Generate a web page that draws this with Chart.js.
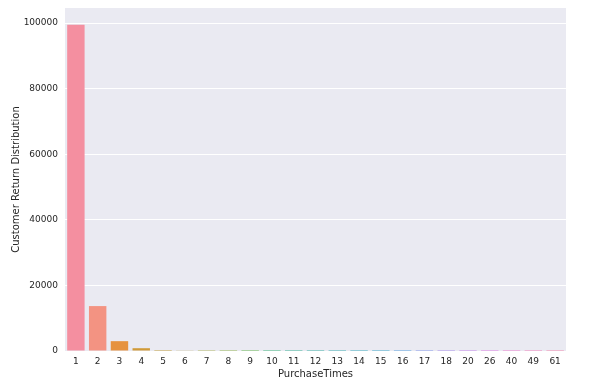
<!DOCTYPE html>
<html lang="en">
<head>
  <meta charset="UTF-8">
  <title>Customer Return Distribution</title>
  <script src="https://cdn.jsdelivr.net/npm/chart.js"></script>
  <style>
    html, body { margin: 0; padding: 0; background: #fff; }
    .chart-box { width: 591px; height: 391px; }
  </style>
</head>
<body>
  <div class="chart-box">
    <canvas id="returnChart" width="591" height="391"></canvas>
  </div>

  <script>
    // data
    const purchaseTimes = ['1', '2', '3', '4', '5', '6', '7', '8', '9', '10', '11', '12',
      '13', '14', '15', '16', '17', '18', '20', '26', '40', '49', '61'];
    const customerCounts = [99500, 13700, 3000, 850, 300, 200, 40, 20, 10, 6, 4, 3,
      2, 2, 1, 1, 1, 1, 1, 1, 1, 1, 1];
    const yTicks = [0, 20000, 40000, 60000, 80000, 100000];

    // husl-like palette, desaturated
    const barColors = ['#f48fa0', '#f39382', '#e6923f', '#d09a38', '#c3a13a', '#b5a63a',
      '#a3ab3a', '#8cb03d', '#62b648', '#3db67a', '#3ab494', '#3cb2a4', '#3db0b1',
      '#3eaebd', '#41abca', '#5aa3de', '#879aeb', '#a990eb', '#c487ea', '#dc7fe2',
      '#ec80cf', '#f185bd', '#f38aae'];

    const textColor = '#262626';
    const font = 'DejaVu Sans';

    const plotBackground = {
      id: 'plotBackground',
      beforeDraw(chart) {
        const { ctx, chartArea } = chart;
        ctx.save();
        ctx.fillStyle = '#eaeaf2';
        ctx.fillRect(chartArea.left, chartArea.top, chartArea.right - chartArea.left, chartArea.bottom - chartArea.top);
        ctx.restore();
      }
    };

    new Chart(document.querySelector('#returnChart'), {
      type: 'bar',
      data: {
        labels: purchaseTimes,
        datasets: [{
          data: customerCounts,
          backgroundColor: barColors,
          barPercentage: 0.8,
          categoryPercentage: 1.0,
        }],
      },
      options: {
        responsive: false,
        animation: false,
        layout: { padding: { top: 8, right: 25, left: 0, bottom: 0 } },
        plugins: { legend: { display: false }, tooltip: { enabled: false } },
        scales: {
          x: {
            grid: { display: false, drawTicks: false },
            border: { display: false },
            ticks: { color: textColor, font: { family: font, size: 9 }, padding: 5, maxRotation: 0, autoSkip: false },
            title: { display: true, text: 'PurchaseTimes', color: textColor, font: { family: font, size: 10 }, padding: { top: 0, bottom: 11 } },
            afterFit(scale) { scale.height = 40; scale.paddingLeft = 0; scale.paddingRight = 0; },
          },
          y: {
            min: 0,
            max: 104600,
            afterBuildTicks(scale) { scale.ticks = yTicks.map(v => ({ value: v })); },
            grid: { color: '#ffffff', lineWidth: 1, drawTicks: false },
            border: { display: false },
            ticks: { color: textColor, font: { family: font, size: 9 }, padding: 7, callback: v => String(v) },
            title: { display: true, text: 'Customer Return Distribution', color: textColor, font: { family: font, size: 10 }, padding: { top: 10, bottom: 4 } },
            afterFit(scale) { scale.width = 65; scale.paddingTop = 0; scale.paddingBottom = 0; },
          },
        },
      },
      plugins: [plotBackground],
    });
  </script>
</body>
</html>
